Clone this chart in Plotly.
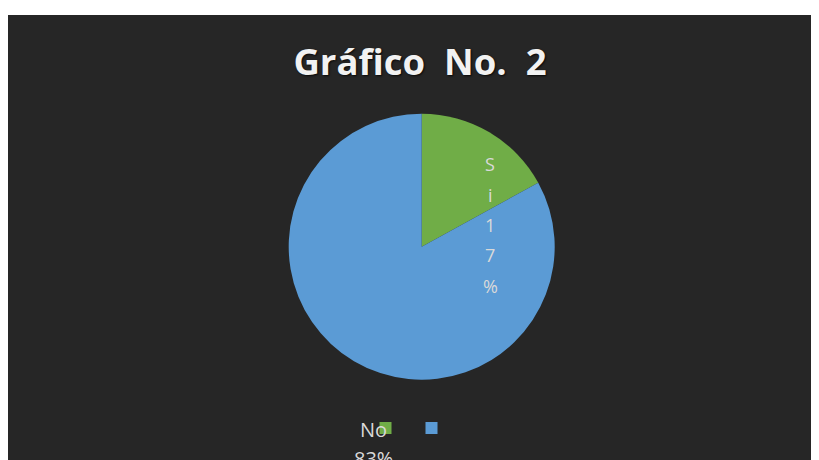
import plotly.graph_objects as go

labels = ["Si", "No"]
values = [17, 83]
colors = ["#70AD47", "#5B9BD5"]
title_text = "Gráfico\u00a0\u00a0No.\u00a0\u00a02"

W, H = 819, 460
# the page body adds an 8px margin, so layout positions are given 8px up/left
OFF = 8

cx, cy, r = 421.7 - OFF, 246.7 - OFF, 133

fig = go.Figure()
fig.add_trace(go.Pie(
    labels=labels, values=values, sort=False, direction="clockwise", rotation=0,
    marker=dict(colors=colors, line=dict(width=0)),
    textinfo="none", hoverinfo="label+percent",
    domain=dict(x=[(cx - r) / W, (cx + r) / W], y=[(H - cy - r) / H, (H - cy + r) / H]),
))

# data labels (Excel wrapped them one character per line)
pct = [round(100 * v / sum(values)) for v in values]
si_chars = list(f"{labels[0]}{pct[0]}%")
for i, ch in enumerate(si_chars):
    fig.add_annotation(x=(490 - OFF) / W, y=1 - (164 - OFF + 30.5 * i) / H, xref="paper", yref="paper",
                       text=ch, showarrow=False, font=dict(size=18, color="#d9d9d9"))
no_lines = [labels[1], f"{pct[1]}%"]
for i, t in enumerate(no_lines):
    fig.add_annotation(x=(373 - OFF) / W, y=1 - (414 - OFF + 29 * i) / H, xref="paper", yref="paper",
                       yanchor="top", text=t, showarrow=False, font=dict(size=20, color="#d9d9d9"))

fig.update_layout(
    width=W, height=H,
    margin=dict(l=0, r=0, t=0, b=0),
    paper_bgcolor="white",
    font=dict(family="Open Sans"),
    title=dict(text=title_text, x=(420 - OFF) / W, xanchor="center", y=1 - (64 - OFF - 2) / H,
               yanchor="middle",
               font=dict(size=36.5, color="#f2f2f2", family="Open Sans", weight="bold",
                         shadow="1px 1px 2px rgba(0,0,0,0.8)")),
    showlegend=True,
    legend=dict(orientation="h", x=(365 - 7.5) / W, xanchor="left", y=1 - (428 - OFF) / H,
                yanchor="middle",
                font=dict(size=1, color="rgba(0,0,0,0)"), entrywidth=1, entrywidthmode="pixels",
                bgcolor="rgba(0,0,0,0)", traceorder="normal"),
    shapes=[dict(type="rect", xref="paper", yref="paper", x0=0, x1=1, y0=0, y1=1 - (15 - OFF) / H,
                 fillcolor="#262626", line=dict(width=0), layer="below")],
)

fig.write_html("out.html")
